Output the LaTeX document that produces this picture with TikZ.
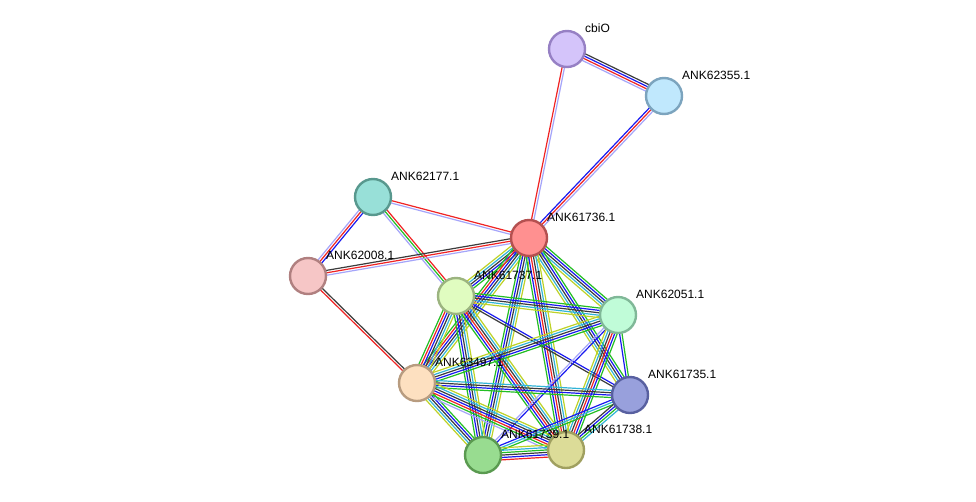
\documentclass[tikz,border=0pt]{standalone}
\usepackage{fontspec}
\setmainfont{Liberation Sans}
\usetikzlibrary{calc}
\definecolor{cyg}{RGB}{190,210,40}
\definecolor{ccy}{RGB}{50,180,215}
\definecolor{cbk}{RGB}{60,60,60}
\definecolor{cbl}{RGB}{25,25,240}
\definecolor{cgr}{RGB}{35,190,35}
\definecolor{crd}{RGB}{240,35,35}
\definecolor{clp}{RGB}{165,165,250}
\newcommand\stredge[3]{%
  \foreach \c [count=\n] in {#3} {\xdef\strN{\n}}%
  \foreach \c [count=\i] in {#3} {%
    \pgfmathsetmacro\off{(\i-(\strN+1)/2)*2.4}%
    \draw[\c, line width=1.2pt] ($(#1)!\off pt!90:(#2)$) -- ($(#2)!\off pt!-90:(#1)$);
  }%
}
\tikzset{
  prot/.style={circle, minimum size=36pt, inner sep=0pt, line width=2.4pt},
  lbl/.style={anchor=west, inner sep=0pt, font=\fontsize{12}{12}\selectfont},
}
\newcommand\plabel[2]{\node[lbl] (l#1) at ($(#1)+(18,-21)$) {#2};}
\begin{document}
\begin{tikzpicture}[x=1pt,y=-1pt]
\path[use as bounding box, fill=white] (0,0) rectangle (976,501);
% node coordinates
\coordinate (cbiO) at (567,49);
\coordinate (p355) at (664,96);
\coordinate (p177) at (373,197);
\coordinate (p736) at (529,238);
\coordinate (p008) at (308,276);
\coordinate (p737) at (456,296);
\coordinate (p051) at (618,315);
\coordinate (p497) at (417,383);
\coordinate (p735) at (630,395);
\coordinate (p739) at (483,455);
\coordinate (p738) at (566,450);
% edges
\stredge{cbiO}{p355}{clp,crd,cbl,cbk}
\stredge{cbiO}{p736}{crd,clp}
\stredge{p355}{p736}{cbl,crd,clp}
\stredge{p177}{p736}{clp,crd}
\stredge{p177}{p008}{clp,crd,cbl}
\stredge{p177}{p737}{clp,cgr,crd}
\stredge{p008}{p736}{clp,crd,cbk}
\stredge{p008}{p497}{crd,cbk}
\stredge{p736}{p737}{cyg,ccy,cbk,cbl,cgr}
\stredge{p736}{p051}{cyg,ccy,cbk,cbl,cgr}
\stredge{p736}{p497}{cgr,crd,cbl,cbk,ccy,cyg}
\stredge{p736}{p735}{cyg,ccy,cbk,cbl,cgr}
\stredge{p736}{p739}{cgr,cbl,cbk,ccy,cyg}
\stredge{p736}{p738}{cgr,cbl,crd,cbk,ccy,cyg}
\stredge{p737}{p051}{cyg,ccy,cbk,cbl,cgr}
\stredge{p737}{p497}{cgr,crd,cbl,cbk,ccy,cyg}
\stredge{p737}{p735}{cbk,cbl}
\stredge{p737}{p739}{cgr,cbl,cbk,ccy,cyg}
\stredge{p737}{p738}{cgr,cbl,crd,cbk,ccy,cyg}
\stredge{p051}{p497}{cyg,ccy,cbk,cbl,cgr}
\stredge{p051}{p735}{cbl,cgr}
\stredge{p051}{p739}{clp,cbl}
\stredge{p051}{p738}{cyg,ccy,cbk,crd,cbl,cgr}
\stredge{p497}{p735}{cgr,cbl,cbk,ccy}
\stredge{p497}{p739}{cyg,ccy,cbk,cbl,cgr}
\stredge{p497}{p738}{clp,cgr,crd,cbl,cbk,ccy,cyg}
\stredge{p735}{p739}{cbl,ccy,cgr}
\stredge{p735}{p738}{cbk,cbl,cgr,ccy}
\stredge{p739}{p738}{crd,cbl,cbk,cgr,ccy,cyg}
% nodes
\node[prot, fill={rgb,255:red,212;green,196;blue,250}, draw={rgb,255:red,150;green,128;blue,196}] (ncbiO) at (cbiO) {};
\node[prot, fill={rgb,255:red,192;green,232;blue,253}, draw={rgb,255:red,124;green,164;blue,190}] (n355) at (p355) {};
\node[prot, fill={rgb,255:red,152;green,224;blue,216}, draw={rgb,255:red,88;green,152;blue,142}] (n177) at (p177) {};
\node[prot, fill={rgb,255:red,255;green,144;blue,144}, draw={rgb,255:red,180;green,80;blue,80}] (n736) at (p736) {};
\node[prot, fill={rgb,255:red,246;green,198;blue,198}, draw={rgb,255:red,176;green,128;blue,128}] (n008) at (p008) {};
\node[prot, fill={rgb,255:red,224;green,252;blue,192}, draw={rgb,255:red,156;green,180;blue,128}] (n737) at (p737) {};
\node[prot, fill={rgb,255:red,192;green,252;blue,216}, draw={rgb,255:red,128;green,184;blue,152}] (n051) at (p051) {};
\node[prot, fill={rgb,255:red,253;green,224;blue,192}, draw={rgb,255:red,184;green,156;blue,128}] (n497) at (p497) {};
\node[prot, fill={rgb,255:red,152;green,160;blue,220}, draw={rgb,255:red,88;green,96;blue,160}] (n735) at (p735) {};
\node[prot, fill={rgb,255:red,152;green,220;blue,144}, draw={rgb,255:red,90;green,154;blue,80}] (n739) at (p739) {};
\node[prot, fill={rgb,255:red,220;green,220;blue,152}, draw={rgb,255:red,160;green,160;blue,96}] (n738) at (p738) {};
% labels
\plabel{cbiO}{cbiO}
\plabel{p355}{ANK62355.1}
\plabel{p177}{ANK62177.1}
\plabel{p736}{ANK61736.1}
\plabel{p008}{ANK62008.1}
\plabel{p737}{ANK61737.1}
\plabel{p051}{ANK62051.1}
\plabel{p497}{ANK63497.1}
\plabel{p735}{ANK61735.1}
\plabel{p739}{ANK61739.1}
\plabel{p738}{ANK61738.1}
\end{tikzpicture}
\end{document}
